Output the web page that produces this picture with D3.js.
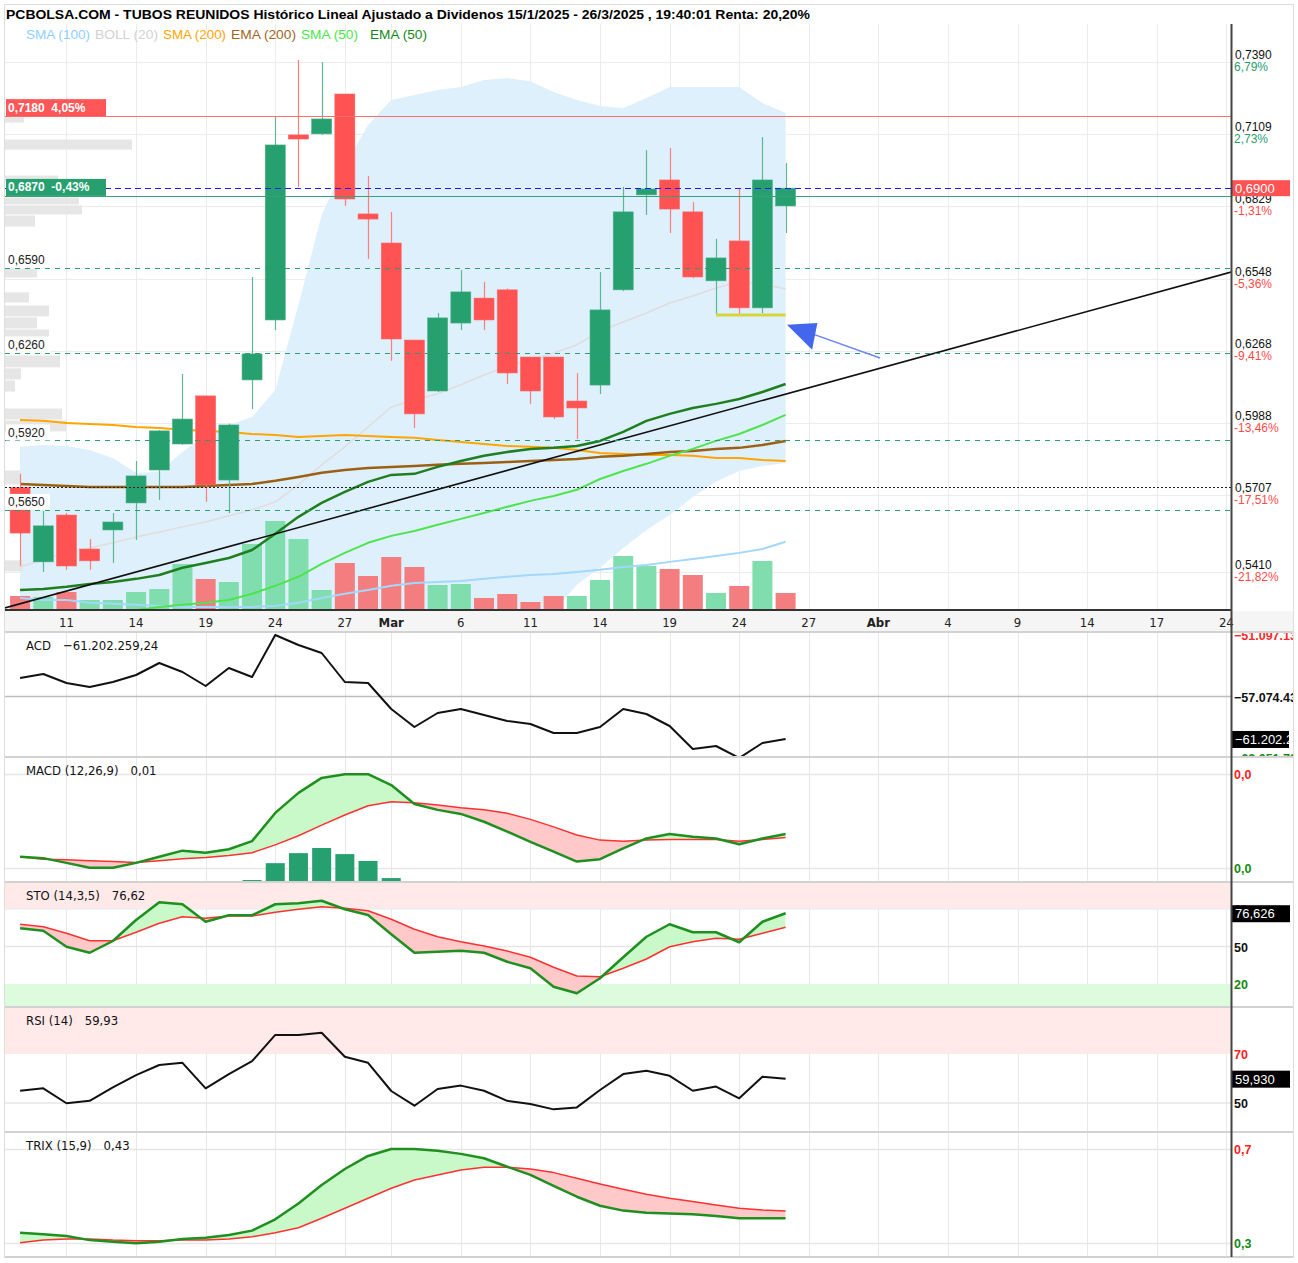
<!DOCTYPE html>
<meta charset="utf-8">
<style>
  body { margin: 0; background: #fff; }
  svg text { font-family: "Liberation Sans", Arial, sans-serif; }
  .nar { font-family: "Liberation Sans Narrow", "DejaVu Sans Condensed", "Roboto Condensed", sans-serif; }
</style>
<svg width="1298" height="1263"></svg>
<script src="https://d3js.org/d3.v7.min.js"></script>
<script>

// sessions 7/2/2025 .. 26/3/2025
var sessions = ["07/02","10/02","11/02","12/02","13/02","14/02","17/02","18/02","19/02","20/02","21/02","24/02","25/02","26/02","27/02","28/02",
    "03/03","04/03","05/03","06/03","07/03","10/03","11/03","12/03","13/03","14/03","17/03","18/03","19/03","20/03","21/03","24/03","25/03","26/03"];

var open  = [0.5737,0.5448,0.5630,0.5498,0.5572,0.5677,0.5805,0.5906,0.6093,0.5766,0.6155,0.6388,0.7107,0.7111,0.7266,0.6800,0.6687,
             0.6310,0.6112,0.6376,0.6473,0.6505,0.6244,0.6244,0.6073,0.6135,0.6505,0.6874,0.6932,0.6808,0.6540,0.6695,0.6435,0.6831];
var high  = [0.5790,0.5646,0.5638,0.5537,0.5638,0.5840,0.5960,0.6178,0.6093,0.5985,0.6555,0.7177,0.7398,0.7390,0.7266,0.6947,0.6808,
             0.6310,0.6415,0.6582,0.6536,0.6510,0.6244,0.6244,0.6182,0.6574,0.6905,0.7048,0.7056,0.6846,0.6703,0.6897,0.7099,0.6998];
var low   = [0.5432,0.5409,0.5417,0.5417,0.5444,0.5533,0.5689,0.5903,0.5681,0.5638,0.6042,0.6349,0.6905,0.7107,0.6831,0.6625,0.6229,
             0.5968,0.6108,0.6349,0.6349,0.6139,0.6062,0.6003,0.5926,0.6100,0.6500,0.6796,0.6726,0.6550,0.6407,0.6407,0.6415,0.6726];
var close = [0.5560,0.5588,0.5432,0.5452,0.5603,0.5782,0.5957,0.6003,0.5747,0.5980,0.6256,0.7068,0.7091,0.7169,0.6858,0.6780,0.6314,
             0.6023,0.6396,0.6497,0.6388,0.6182,0.6112,0.6011,0.6046,0.6427,0.6808,0.6897,0.6819,0.6555,0.6629,0.6435,0.6932,0.6900];
var volume = [35000,32500,45000,25000,25000,45000,52500,115000,77500,70000,165000,222500,177500,50000,117500,85000,132500,
              107500,62500,65000,30000,40000,20000,35000,35000,75000,135000,110000,102500,87500,42500,60000,122500,42500];

var sma100 = [0.5308,0.5300,0.5300,0.5289,0.5285,0.5281,0.5277,0.5273,0.5273,0.5273,0.5273,0.5277,0.5289,0.5308,0.5324,0.5339,0.5355,
              0.5366,0.5370,0.5374,0.5382,0.5390,0.5397,0.5401,0.5409,0.5417,0.5428,0.5436,0.5448,0.5459,0.5471,0.5483,0.5498,0.5526];
var bollUp  = [0.5895,0.5902,0.5898,0.5883,0.5852,0.5794,0.5797,0.5875,0.5941,0.5980,0.6011,0.6116,0.6446,0.6796,0.6990,0.7146,0.7243,
               0.7262,0.7282,0.7293,0.7320,0.7328,0.7316,0.7274,0.7243,0.7219,0.7212,0.7250,0.7293,0.7293,0.7293,0.7293,0.7231,0.7192];
var bollMid = [0.5428,0.5456,0.5483,0.5502,0.5522,0.5545,0.5564,0.5584,0.5603,0.5627,0.5650,0.5681,0.5747,0.5825,0.5895,0.5972,0.6050,
               0.6077,0.6101,0.6136,0.6174,0.6209,0.6229,0.6260,0.6291,0.6345,0.6380,0.6415,0.6454,0.6481,0.6512,0.6536,0.6528,0.6508];
var bollLow = [0.5067,0.5106,0.5145,0.5184,0.5223,0.5254,0.5242,0.5203,0.5145,0.5106,0.5067,0.4989,0.4834,0.4717,0.4679,0.4679,0.4717,
               0.4756,0.4834,0.4912,0.4989,0.5067,0.5145,0.5254,0.5359,0.5425,0.5502,0.5572,0.5630,0.5700,0.5759,0.5801,0.5821,0.5832];
var sma200 = [0.5999,0.5996,0.5988,0.5984,0.5980,0.5972,0.5968,0.5961,0.5957,0.5953,0.5945,0.5941,0.5933,0.5937,0.5941,0.5937,0.5933,
              0.5930,0.5922,0.5914,0.5906,0.5898,0.5895,0.5891,0.5883,0.5871,0.5867,0.5863,0.5863,0.5860,0.5852,0.5852,0.5844,0.5840];
var ema200 = [0.5751,0.5747,0.5743,0.5739,0.5739,0.5739,0.5739,0.5739,0.5743,0.5747,0.5751,0.5763,0.5778,0.5794,0.5805,0.5813,0.5817,
              0.5821,0.5825,0.5829,0.5832,0.5836,0.5840,0.5844,0.5848,0.5856,0.5860,0.5867,0.5875,0.5879,0.5887,0.5891,0.5902,0.5918];
var sma50 = [0.5145,0.5164,0.5191,0.5215,0.5242,0.5261,0.5273,0.5281,0.5289,0.5300,0.5324,0.5355,0.5390,0.5440,0.5483,0.5522,0.5549,
             0.5568,0.5592,0.5615,0.5638,0.5662,0.5685,0.5704,0.5728,0.5770,0.5801,0.5829,0.5860,0.5887,0.5918,0.5945,0.5980,0.6019];
var ema50 = [0.5339,0.5343,0.5351,0.5362,0.5370,0.5382,0.5397,0.5425,0.5444,0.5463,0.5494,0.5557,0.5623,0.5677,0.5720,0.5759,0.5786,
             0.5790,0.5817,0.5840,0.5860,0.5875,0.5887,0.5891,0.5898,0.5918,0.5953,0.5996,0.6023,0.6046,0.6062,0.6081,0.6108,0.6139];

// volume at price (left histogram)
var vpHi  = [0.7184,0.7091,0.6951,0.6866,0.6835,0.6796,0.6590,0.6497,0.6446,0.6400,0.6353,0.6252,0.6202,0.6155,0.6046,0.5999,0.5805,0.5456];
var vpLo  = [0.7153,0.7048,0.6924,0.6835,0.6796,0.6749,0.6551,0.6454,0.6400,0.6353,0.6322,0.6202,0.6155,0.6108,0.5999,0.5953,0.5747,0.5409];
var vpVol = [19,127,53,74,77,30,32,24,44,32,44,55,16,10,57,61,16,18];

// levels
var supports = [0.6590, 0.6260, 0.5920, 0.5650];
var resistance = 0.7180, resistPct = "4,05%";
var support = 0.6870, supportPct = "-0,43%";
var refLevel = 0.5737;
var lastPrice = 0.6900;
var trend = [[-0.65, 0.5269], [52.2, 0.6574]];
var floorLine = [30, 33, 0.6407];
var arrowFrom = [37.07, 0.6240], arrowTo = [33.06, 0.6369];

var priceTicks = [0.7390,0.7109,0.6829,0.6548,0.6268,0.5988,0.5707,0.5410];
var priceTickPct = ["6,79%","2,73%","-1,31%","-5,36%","-9,41%","-13,46%","-17,51%","-21,82%"];

var tickPos  = [2,5,8,11,14,16,19,22,25,28,31,34,37,40,43,46,49,52];
var tickText = ["11","14","19","24","27","Mar","6","11","14","19","24","27","Abr","4","9","14","17","24"];

// indicators
var acd = [-55276378,-54887610,-55762338,-56151106,-55665146,-54984802,-53818498,-54693226,-56053914,-54304458,-55179186,-51097130,
           -52069042,-52846578,-55665146,-55762338,-58289330,-60038786,-58678098,-58289330,-58872482,-59455634,-59747210,-60621938,
           -60621938,-60038786,-58289330,-58775290,-59941594,-62177010,-61885434,-63051730,-61593858,-61202259.24];
var macd = [0.0033,0.0029,0.0015,0.0001,0.0001,0.0015,0.0033,0.0051,0.0045,0.0055,0.0079,0.0162,0.0221,0.0265,0.0276,0.0276,0.0244,
            0.0188,0.0171,0.0159,0.0136,0.0107,0.0077,0.0048,0.0019,0.0026,0.0058,0.0087,0.0100,0.0092,0.0087,0.0070,0.0087,0.0100];
var macdSig = [0.0033,0.0026,0.0024,0.0021,0.0019,0.0016,0.0021,0.0027,0.0031,0.0037,0.0045,0.0068,0.0095,0.0126,0.0156,0.0183,0.0195,
               0.0192,0.0185,0.0177,0.0171,0.0161,0.0143,0.0121,0.0097,0.0082,0.0079,0.0082,0.0084,0.0084,0.0084,0.0079,0.0084,0.0090];
var macdHist = [null,null,null,null,null,null,null,null,null,null,0.0008,0.0077,0.0118,0.0139,0.0114,0.0086,0.0016,
                null,null,null,null,null,null,null,null,null,null,null,null,null,null,null,null,null];
var stoK = [64.6,62.6,49.8,45.0,54.4,71.2,85.4,83.8,69.8,75.0,75.0,83.8,84.6,86.6,79.8,75.2,59.8,45.0,45.8,46.6,45.0,37.8,32.6,17.8,
            12.6,24.6,41.4,57.8,67.8,61.4,61.4,53.4,69.8,76.626];
var stoD = [67.8,65.8,60.6,54.6,54.6,61.4,68.6,73.8,72.6,74.4,74.4,77.4,79.8,81.8,80.6,78.6,71.8,63.8,57.8,53.8,50.4,46.4,41.4,33.4,
            26.4,25.8,32.6,40.0,49.8,53.8,56.6,55.8,60.6,65.4];
var rsi = [55.0,56.0,49.9,50.9,56.4,61.4,65.5,66.4,56.0,61.8,67.1,77.8,77.8,78.7,68.9,66.4,54.9,48.9,55.7,57.1,55.0,50.9,49.6,47.4,
           48.2,55.3,61.8,63.2,61.1,55.0,56.7,51.9,60.7,59.93];
var trix = [0.374,0.368,0.361,0.345,0.339,0.333,0.339,0.349,0.354,0.365,0.382,0.426,0.488,0.560,0.622,0.673,0.700,0.700,0.693,0.681,
            0.664,0.631,0.599,0.556,0.514,0.479,0.460,0.452,0.449,0.446,0.439,0.430,0.430,0.430];
var trixSig = [0.335,0.345,0.349,0.349,0.345,0.343,0.343,0.345,0.345,0.349,0.358,0.374,0.393,0.430,0.469,0.508,0.547,0.579,0.599,0.618,
               0.629,0.629,0.622,0.608,0.586,0.564,0.543,0.524,0.508,0.495,0.482,0.469,0.462,0.458];

var es = d3.formatLocale({decimal: ",", thousands: ".", grouping: [3], currency: ["", ""]});
var f4 = es.format(".4f"), f3 = es.format(".3f"), f2 = es.format(".2f"), f1 = es.format(".1f"), fbig = es.format(",.2f"), fint = es.format(",.0f");
function trunc2(v) { return f2(Math.floor(v * 100) / 100); }

var svg = d3.select("svg");
var defs = svg.append("defs");
var L = 5, R = 1231, TOP = 24, BOT = 610;
var GREEN = "#26a06f", RED = "#ff5252";

var x = d3.scaleLinear().domain([-0.65, 52.2]).range([L, R]);
var y = d3.scaleLinear().domain([0.5261, 0.7538]).range([BOT, TOP]);
var yVol = d3.scaleLinear().domain([0, 250000]).range([BOT, BOT - 100]);
var vpW = d3.scaleLinear().domain([0, 100]).range([0, 100]);
var idx = d3.range(close.length);
var bw = 20;

function clip(id, x0, y0, w, h) {
    defs.append("clipPath").attr("id", id).append("rect").attr("x", x0).attr("y", y0).attr("width", w).attr("height", h);
}
clip("cMain", L, TOP, R - L, BOT - TOP);

// frame
svg.append("rect").attr("x", 4.5).attr("y", 4.5).attr("width", 1289).attr("height", 1253)
    .attr("fill", "none").attr("stroke", "#ddd");

// title + legend
svg.append("text").attr("x", 6).attr("y", 19).attr("font-size", 13).attr("font-weight", "bold")
    .attr("textLength", 804).attr("lengthAdjust", "spacingAndGlyphs")
    .text("PCBOLSA.COM - TUBOS REUNIDOS Histórico Lineal Ajustado a Dividenos 15/1/2025 - 26/3/2025 , 19:40:01 Renta: 20,20%");

var m = svg.append("g").attr("clip-path", "url(#cMain)");

// grid
m.selectAll(".hg").data(priceTicks).join("line")
    .attr("x1", L).attr("x2", R).attr("y1", d => Math.round(y(d)) + 0.5).attr("y2", d => Math.round(y(d)) + 0.5)
    .attr("stroke", "#ececec");
m.selectAll(".vg").data(tickPos).join("line")
    .attr("x1", d => Math.round(x(d)) + 0.5).attr("x2", d => Math.round(x(d)) + 0.5).attr("y1", TOP).attr("y2", BOT)
    .attr("stroke", "#ececec");

// bollinger band
m.append("path").datum(idx)
    .attr("d", d3.area().x(i => x(i)).y0(i => y(bollLow[i])).y1(i => y(bollUp[i])))
    .attr("fill", "#def0fc");

// volume at price
m.selectAll(".vp").data(vpVol).join("rect")
    .attr("x", L).attr("y", (d, i) => y(vpHi[i]) + 0.5)
    .attr("width", d => vpW(d)).attr("height", (d, i) => Math.max(1, y(vpLo[i]) - y(vpHi[i]) - 1))
    .attr("fill", "#e6e6e6");

// volume bars
m.selectAll(".vol").data(idx).join("rect")
    .attr("x", i => x(i) - bw / 2).attr("width", bw)
    .attr("y", i => yVol(volume[i])).attr("height", i => BOT - yVol(volume[i]))
    .attr("fill", i => (i > 0 && close[i] >= close[i - 1]) ? "#80deae" : "#f47d80");

function line(arr, ys) {
    return d3.line().defined(i => arr[i] != null).x(i => x(i)).y(i => ys(arr[i]))(idx);
}
function drawLine(g, arr, ys, color, w) {
    return g.append("path").attr("d", line(arr, ys)).attr("fill", "none").attr("stroke", color)
        .attr("stroke-width", w).attr("stroke-linejoin", "round");
}
drawLine(m, bollMid, y, "#e2dcdc", 1.5);
drawLine(m, sma100, y, "#a3d7fb", 2);
drawLine(m, sma200, y, "#ffa500", 2);
drawLine(m, ema200, y, "#9a6114", 2.5);
drawLine(m, sma50, y, "#4ee44e", 2);
drawLine(m, ema50, y, "#1f7f1f", 2.5);

// trend line
m.append("line").attr("x1", x(trend[0][0])).attr("y1", y(trend[0][1])).attr("x2", x(trend[1][0])).attr("y2", y(trend[1][1]))
    .attr("stroke", "#111").attr("stroke-width", 1.6);

// candles
var c = m.selectAll(".cd").data(idx).join("g");
c.append("line").attr("x1", i => Math.round(x(i)) + 0.5).attr("x2", i => Math.round(x(i)) + 0.5)
    .attr("y1", i => y(high[i])).attr("y2", i => y(low[i]))
    .attr("stroke", i => close[i] >= open[i] ? "#5cb893" : "#ff7f7f").attr("stroke-width", 1.2);
c.append("rect").attr("x", i => x(i) - bw / 2).attr("width", bw)
    .attr("y", i => y(Math.max(open[i], close[i])))
    .attr("height", i => Math.max(2, Math.abs(y(open[i]) - y(close[i]))))
    .attr("fill", i => close[i] >= open[i] ? GREEN : RED)
    .attr("stroke", i => close[i] >= open[i] ? "#4dae87" : "#ff6b6b").attr("stroke-width", 0.6);

// levels
function hline(v, color, dash, w) {
    var yy = Math.round(y(v)) + 0.5;
    m.append("line").attr("x1", L).attr("x2", R).attr("y1", yy).attr("y2", yy)
        .attr("stroke", color).attr("stroke-width", w || 1).attr("stroke-dasharray", dash || null);
}
supports.forEach(v => hline(v, "#2e9c72", "5,5"));
hline(resistance, "#ff6f6f");
hline(support, "#3aa07c");
hline(lastPrice, "#1a1aff", "6,4");
hline(refLevel, "#222", "2,2");

// floor line and arrow
m.append("line").attr("x1", x(floorLine[0])).attr("x2", x(floorLine[1])).attr("y1", y(floorLine[2])).attr("y2", y(floorLine[2]))
    .attr("stroke", "#d6d63a").attr("stroke-width", 3);
var ax0 = x(arrowFrom[0]), ay0 = y(arrowFrom[1]), ax1 = x(arrowTo[0]), ay1 = y(arrowTo[1]);
var ang = Math.atan2(ay1 - ay0, ax1 - ax0);
m.append("line").attr("x1", ax0).attr("y1", ay0).attr("x2", ax1 + 24 * Math.cos(ang + Math.PI)).attr("y2", ay1 + 24 * Math.sin(ang + Math.PI))
    .attr("stroke", "#6b86f5").attr("stroke-width", 1.5);
m.append("path")
    .attr("d", "M0,0L-32,-15L-28,12Z")
    .attr("transform", "translate(" + ax1 + "," + ay1 + ") rotate(" + (ang * 180 / Math.PI) + ")")
    .attr("fill", "#4267ec");

// left level labels
supports.forEach(function (v) {
    var yy = y(v) - 8;
    svg.append("rect").attr("x", L + 1).attr("y", yy - 8).attr("width", 44).attr("height", 16).attr("fill", "#fff");
    svg.append("text").attr("x", 8).attr("y", yy + 4.5).attr("font-size", 12).attr("fill", "#222").text(f4(v));
});
function boxLabel(v, pct, color) {
    var yy = y(v) - 9;
    svg.append("rect").attr("x", L + 1).attr("y", yy - 8).attr("width", 100).attr("height", 17).attr("fill", color);
    svg.append("text").attr("x", 8).attr("y", yy + 4.5).attr("font-size", 12).attr("font-weight", "bold").attr("fill", "#fff")
        .style("white-space", "pre").text(f4(v) + "  " + pct);
}
boxLabel(resistance, resistPct, "#ff5757");
boxLabel(support, supportPct, "#26a06f");

// legend (narrow type: squeeze each label to the width it takes in the original)
var legend = [["SMA (100)", "#8fcfff", 64], ["BOLL (20)", "#d2d2d2", 63], ["SMA (200)", "#ffa500", 63],
              ["EMA (200)", "#a0661e", 65], ["SMA (50)", "#48e848", 57], ["EMA (50)", "#158a15", 57]];
var lx = 26;
legend.forEach(function (d, i) {
    svg.append("text").attr("x", lx).attr("y", 39).attr("font-size", 13)
        .attr("textLength", d[2]).attr("lengthAdjust", "spacingAndGlyphs")
        .attr("fill", d[1]).text(d[0]);
    lx += d[2] + (i == 4 ? 12 : 5);
});

// right axis main
var ra = svg.append("g");
priceTicks.forEach(function (v, i) {
    var yy = y(v);
    ra.append("text").attr("x", 1235).attr("y", yy - 3).attr("font-size", 12).attr("fill", "#111").text(f4(v));
    ra.append("text").attr("x", 1234).attr("y", yy + 9).attr("font-size", 12)
        .attr("fill", priceTickPct[i][0] == "-" ? "#ff4a4a" : "#2a9d6f").text(priceTickPct[i]);
});
ra.append("rect").attr("x", R).attr("y", y(lastPrice) - 8).attr("width", 59).attr("height", 16).attr("fill", "#ff5252");
ra.append("text").attr("x", 1235).attr("y", y(lastPrice) + 5).attr("font-size", 13).attr("fill", "#fff").text(f4(lastPrice));

// x axis band
svg.append("rect").attr("x", L).attr("y", BOT + 1).attr("width", 1288).attr("height", 21).attr("fill", "#f5f5f5");
svg.append("line").attr("x1", L).attr("x2", R).attr("y1", BOT).attr("y2", BOT).attr("stroke", "#333").attr("stroke-width", 2);
svg.selectAll(".xt").data(tickPos).join("text").attr("class", "nar")
    .attr("x", d => x(d)).attr("y", 627).attr("text-anchor", "middle").attr("font-size", 13)
    .attr("font-weight", (d, i) => isNaN(+tickText[i]) ? "bold" : "normal").attr("fill", "#222")
    .text((d, i) => tickText[i]);

// ---------- indicator panels ----------
function panel(top, bottom, id) {
    clip(id, L, top, 1293 - L, bottom - top);
    var g = svg.append("g").attr("clip-path", "url(#" + id + ")");
    g.selectAll(".vg").data(tickPos).join("line")
        .attr("x1", d => Math.round(x(d)) + 0.5).attr("x2", d => Math.round(x(d)) + 0.5).attr("y1", top).attr("y2", bottom)
        .attr("stroke", "#e8e8e8");
    return g;
}
function gridAt(g, yy, color, w) {
    g.append("line").attr("x1", L).attr("x2", R).attr("y1", yy).attr("y2", yy).attr("stroke", color || "#e6e6e6").attr("stroke-width", w || 1.5);
}
function title(top, name, val) {
    var t = svg.append("text").attr("class", "nar").attr("x", 26).attr("y", top + 17).attr("font-size", 13).attr("fill", "#111");
    t.append("tspan").text(name);
    t.append("tspan").attr("dx", 12).text(val);
}
function rlab(g, yy, txt, color) {
    g.append("text").attr("x", 1234).attr("y", yy + 5).attr("font-size", 12.5).attr("font-weight", "bold").attr("fill", color).text(txt);
}
function rbox(yy, txt) {
    svg.append("rect").attr("x", R).attr("y", yy - 8).attr("width", 59).attr("height", 17).attr("fill", "#000");
    svg.append("text").attr("x", 1235).attr("y", yy + 5).attr("font-size", 13).attr("fill", "#fff").text(txt);
}
function diffFill(g, id, a, b, ys, top, bottom) {
    defs.append("clipPath").attr("id", id + "a").append("path")
        .attr("d", d3.area().x(i => x(i)).y0(top).y1(i => ys(b[i]))(idx));
    defs.append("clipPath").attr("id", id + "b").append("path")
        .attr("d", d3.area().x(i => x(i)).y0(bottom).y1(i => ys(b[i]))(idx));
    var between = d3.area().x(i => x(i)).y0(i => ys(b[i])).y1(i => ys(a[i]));
    g.append("g").attr("clip-path", "url(#" + id + "a)").append("path").attr("d", between(idx)).attr("fill", "#c9f9c9");
    g.append("g").attr("clip-path", "url(#" + id + "b)").append("path").attr("d", between(idx)).attr("fill", "#ffc9c9");
}

// ACD
var yA = d3.scaleLinear().domain([d3.min(acd), d3.max(acd)]).range([758, 635]);
var gA = panel(633, 757, "cA");
var acdMid = (d3.min(acd) + d3.max(acd)) / 2;
gridAt(gA, yA(acdMid), "#bdbdbd", 1.5);
drawLine(gA, acd, yA, "#111", 2);
rlab(gA, yA(d3.max(acd)), fint(d3.max(acd)), "#ff2a2a");
rlab(gA, yA(acdMid), fint(acdMid), "#111");
rlab(gA, yA(d3.min(acd)), fint(d3.min(acd)), "#1a8a1a");
clip("cAbox", R, 600, 58, 200);
var lastA = acd[acd.length - 1];
svg.append("rect").attr("x", R).attr("y", yA(lastA) - 8).attr("width", 58).attr("height", 17).attr("fill", "#000");
svg.append("text").attr("clip-path", "url(#cAbox)").attr("x", 1235).attr("y", yA(lastA) + 5).attr("font-size", 13).attr("fill", "#fff").text(fint(lastA));
title(633, "ACD", fbig(lastA));

// MACD
var yM = d3.scaleLinear().domain([0, 0.01]).range([868, 834]);
var yH = d3.scaleLinear().domain([0, 0.0139]).range([882, 848]);
var gM = panel(758, 882, "cM");
gridAt(gM, Math.round(yM(d3.max(macd))) + 0.5);
gridAt(gM, Math.round(yM(d3.min(macd))) + 0.5);
gM.selectAll(".h").data(idx.filter(i => macdHist[i] != null)).join("rect")
    .attr("x", i => x(i) - 9.5).attr("width", 19).attr("y", i => yH(macdHist[i])).attr("height", i => 882 - yH(macdHist[i]))
    .attr("fill", GREEN);
diffFill(gM, "fm", macd, macdSig, yM, 758, 882);
drawLine(gM, macdSig, yM, "#ff3030", 1.5);
drawLine(gM, macd, yM, "#1f8f1f", 2.5);
rlab(svg, yM(d3.max(macd)), f1(d3.max(macd)), "#ff2020");
rlab(svg, yM(d3.min(macd)), f1(d3.min(macd)), "#128a12");
title(758, "MACD (12,26,9)", f2(macd[macd.length - 1]));

// STO
var yS = d3.scaleLinear().domain([0, 100]).range([1009, 884]);
var gS = panel(883, 1007, "cS");
gS.append("rect").attr("x", L).attr("y", 883).attr("width", R - L).attr("height", yS(80) - 883).attr("fill", "#ffe9e9");
gS.append("rect").attr("x", L).attr("y", yS(20)).attr("width", R - L).attr("height", 1007 - yS(20)).attr("fill", "#ddfcdd");
gridAt(gS, yS(80), "#eeeeee");
gridAt(gS, yS(50));
diffFill(gS, "fs", stoK, stoD, yS, 883, 1007);
drawLine(gS, stoD, yS, "#ff3030", 1.5);
drawLine(gS, stoK, yS, "#1f8f1f", 2.5);
rlab(svg, yS(80), "80", "#ff2020");
rlab(svg, yS(50), "50", "#111");
rlab(svg, yS(20), "20", "#128a12");
rbox(yS(stoK[stoK.length - 1]), f3(stoK[stoK.length - 1]));
title(883, "STO (14,3,5)", trunc2(stoK[stoK.length - 1]));

// RSI
var yR = d3.scaleLinear().domain([50, 70]).range([1103, 1054]);
var gR = panel(1008, 1132, "cR");
gR.append("rect").attr("x", L).attr("y", 1008).attr("width", R - L).attr("height", yR(70) - 1008).attr("fill", "#ffe9e9");
gridAt(gR, yR(50));
drawLine(gR, rsi, yR, "#111", 2);
rlab(svg, yR(70), "70", "#ff2020");
rlab(svg, yR(50), "50", "#111");
rbox(yR(rsi[rsi.length - 1]), f3(rsi[rsi.length - 1]));
title(1008, "RSI (14)", f2(rsi[rsi.length - 1]));

// TRIX
var yT = d3.scaleLinear().domain([0.43, 0.70]).range([1218.3, 1149]);
var gT = panel(1133, 1257, "cT");
gridAt(gT, Math.round(yT(d3.max(trix))) + 0.5);
gridAt(gT, Math.round(yT(d3.min(trix))) + 0.5);
diffFill(gT, "ft", trix, trixSig, yT, 1133, 1257);
drawLine(gT, trixSig, yT, "#ff3030", 1.5);
drawLine(gT, trix, yT, "#1f8f1f", 2.5);
rlab(svg, yT(d3.max(trix)), f1(d3.max(trix)), "#ff2020");
rlab(svg, yT(d3.min(trix)), f1(d3.min(trix)), "#128a12");
title(1133, "TRIX (15,9)", f2(trix[trix.length - 1]));

// panel separators + right axis line
[632, 757, 882, 1007, 1132, 1257].forEach(function (yy) {
    svg.append("line").attr("x1", L).attr("x2", 1293).attr("y1", yy).attr("y2", yy).attr("stroke", "#d2d2d2").attr("stroke-width", 2);
});
svg.append("line").attr("x1", R + 0.5).attr("x2", R + 0.5).attr("y1", TOP).attr("y2", 1257).attr("stroke", "#444").attr("stroke-width", 2);

</script>
